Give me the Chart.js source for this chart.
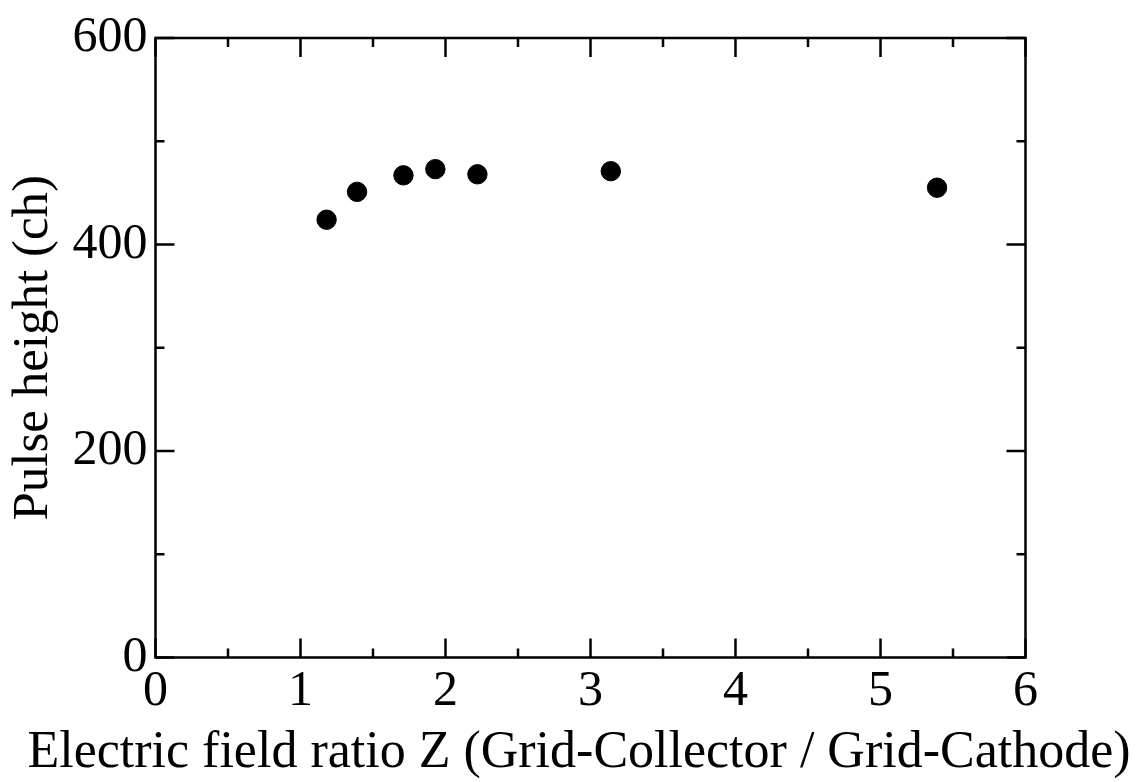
<!DOCTYPE html>
<html>
<head>
<meta charset="utf-8">
<script src="https://cdn.jsdelivr.net/npm/chart.js@4"></script>
<style>
  html, body { margin: 0; padding: 0; background: #fff; }
  #wrap { width: 1143px; height: 782px; }
</style>
</head>
<body>
<div id="wrap"><canvas id="chart" width="1143" height="782"></canvas></div>
<script>
// field ratio Z vs pulse height
const zRatio = [1.18, 1.39, 1.71, 1.93, 2.22, 3.14, 5.39]
const pulseHeight = [424, 451, 467, 473, 468, 471, 455]

const xMajorTicks = [0, 1, 2, 3, 4, 5, 6]
const xMinorTicks = [0.5, 1.5, 2.5, 3.5, 4.5, 5.5]
const yMajorTicks = [0, 200, 400, 600]
const yMinorTicks = [100, 300, 500]

const X_TITLE = "Electric field ratio Z (Grid-Collector / Grid-Cathode)"
const Y_TITLE = "Pulse height (ch)"

const FONT = "'Liberation Serif', 'Times New Roman', serif"

// frame + inward ticks on all four sides
const frameTicks = {
  id: "frameTicks",
  beforeDatasetsDraw(chart) {
    const { ctx, chartArea: a, scales } = chart
    const x = scales.x, y = scales.y
    ctx.save()
    ctx.strokeStyle = "#000"
    ctx.lineWidth = 2.5
    ctx.lineCap = "butt"
    ctx.strokeRect(a.left, a.top, a.right - a.left, a.bottom - a.top)
    ctx.beginPath()
    const xt = (v, len) => {
      const px = x.getPixelForValue(v)
      ctx.moveTo(px, a.bottom); ctx.lineTo(px, a.bottom - len)
      ctx.moveTo(px, a.top); ctx.lineTo(px, a.top + len)
    }
    const yt = (v, len) => {
      const py = y.getPixelForValue(v)
      ctx.moveTo(a.left, py); ctx.lineTo(a.left + len, py)
      ctx.moveTo(a.right, py); ctx.lineTo(a.right - len, py)
    }
    xMajorTicks.forEach((v) => xt(v, 19))
    xMinorTicks.forEach((v) => xt(v, 9))
    yMajorTicks.forEach((v) => yt(v, 19))
    yMinorTicks.forEach((v) => yt(v, 9))
    ctx.stroke()
    ctx.restore()
  },
  // the x title is wider than the plot, so chart.js would squeeze it
  afterDraw(chart) {
    const ctx = chart.ctx
    ctx.save()
    ctx.fillStyle = "#000"
    ctx.font = "52px " + FONT
    ctx.textAlign = "center"
    ctx.textBaseline = "alphabetic"
    ctx.fillText(X_TITLE, 579, 767)
    ctx.restore()
  },
}

const data = {
  datasets: [
    {
      data: zRatio.map((z, i) => ({ x: z, y: pulseHeight[i] })),
      backgroundColor: "#000",
      borderColor: "#000",
      pointRadius: 9.7,
      pointHoverRadius: 9.7,
      showLine: false,
    },
  ],
}

const config = {
  type: "scatter",
  data: data,
  options: {
    responsive: false,
    animation: false,
    layout: { padding: { top: 35, right: 117.5, left: 0, bottom: 0 } },
    scales: {
      x: {
        type: "linear",
        min: 0,
        max: 6,
        afterFit: (s) => { s.height = 124.5 },
        grid: { display: false, drawTicks: false },
        border: { display: false },
        ticks: {
          stepSize: 1,
          color: "#000",
          padding: 4,
          font: { family: FONT, size: 50 },
        },
        title: { display: false },
      },
      y: {
        type: "linear",
        min: 0,
        max: 600,
        afterFit: (s) => { s.width = 155.5 },
        grid: { display: false, drawTicks: false },
        border: { display: false },
        ticks: {
          stepSize: 200,
          color: "#000",
          padding: 8,
          font: { family: FONT, size: 50 },
        },
        title: {
          display: true,
          text: Y_TITLE,
          color: "#000",
          font: { family: FONT, size: 51 },
          padding: { top: 3, bottom: 0 },
        },
      },
    },
    plugins: {
      legend: { display: false },
      tooltip: { enabled: false },
    },
  },
  plugins: [frameTicks],
}

new Chart(document.getElementById("chart"), config)
</script>
</body>
</html>
